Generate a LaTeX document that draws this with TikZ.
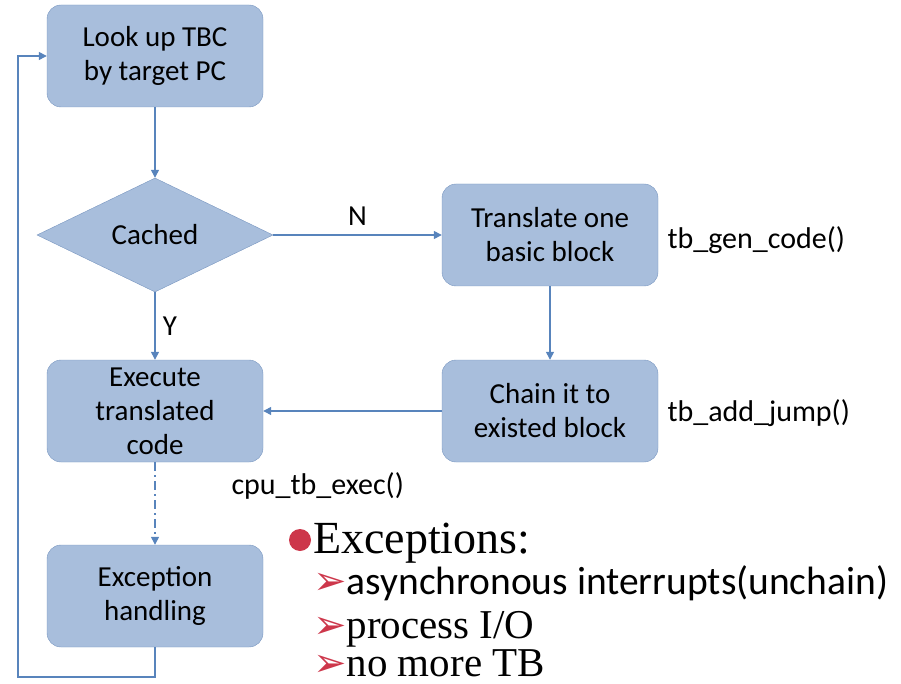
\documentclass[tikz,border=0pt]{standalone}
\usepackage{fontspec}
\setmainfont{Carlito}
\newfontfamily\timesfont{Liberation Serif}
\newfontfamily\symfont{DejaVu Sans}
\usetikzlibrary{arrows.meta, positioning, shapes.geometric}
\definecolor{boxfill}{RGB}{168,190,220}
\definecolor{boxline}{RGB}{120,150,192}
\definecolor{flow}{RGB}{88,132,188}
\definecolor{bullet}{RGB}{205,55,75}
\newcommand{\arrbullet}{\textcolor{bullet}{\symfont\fontsize{40}{44}\selectfont ➢}}

\begin{document}
\begin{tikzpicture}[x=1pt,y=-1pt,
		step box/.style={draw=boxline,fill=boxfill,rounded corners=14pt,minimum width=216pt,minimum height=102pt,align=center,font=\fontsize{29}{34}\selectfont},
		flow arrow/.style={draw=flow,line width=1.3pt,-{Triangle[length=8pt,width=8pt]}},
		side note/.style={anchor=west,font=\fontsize{30}{34}\selectfont},
		list item/.style={anchor=base west,inner sep=0pt}]
			\useasboundingbox (0,0) rectangle (901,684);
			% boxes
			\node[step box] (lookup) at (155,56) {Look up TBC\\by target PC};
			\node[draw=boxline,fill=boxfill,diamond,inner sep=0pt,minimum width=236pt,minimum height=114pt,font=\fontsize{29}{34}\selectfont] (cached) at (155,235) {Cached};
			\node[step box] (translate) at (550,235) {Translate one\\basic block};
			\node[step box] (chain) at (550,411) {Chain it to\\existed block};
			\node[step box] (execute) at (155,411) {Execute\\translated\\code};
			\node[step box] (exception) at (155,596) {Exception\\handling};
			% connectors
			\draw[flow arrow] (lookup) -- (cached);
			\draw[flow arrow] (cached) -- node[above=6pt,font=\fontsize{29}{34}\selectfont]{N} (translate);
			\draw[flow arrow] (cached) -- node[right=4pt,font=\fontsize{29}{34}\selectfont]{Y} (execute);
			\draw[flow arrow] (translate) -- (chain);
			\draw[flow arrow] (chain) -- (execute);
			\draw[flow arrow,dash pattern=on 9pt off 4pt on 2pt off 4pt] (execute) -- (exception);
			% loop back
			\coordinate (loopcorner) at (18,677);
			\draw[flow arrow] (exception.south) |- (loopcorner) |- (lookup.west);
			% function names
			\node[side note] (gencode) at (664,240) {tb\_gen\_code()};
			\node[side note] (addjump) at (664,413) {tb\_add\_jump()};
			\node[side note] (tbexec) at (228,486) {cpu\_tb\_exec()};
			% exceptions list
			\node[circle,fill=bullet,inner sep=0pt,minimum size=22pt] (excdot) at (300,540) {};
			\node[list item,font=\fontsize{46}{50}\timesfont] (exctitle) at (313,553) {Exceptions:};
			\node[list item,font=\fontsize{39.5}{44}\selectfont] (async) at (313,594) {\arrbullet asynchronous interrupts(unchain)};
			\node[list item,font=\fontsize{41}{44}\timesfont] (procio) at (313,638) {\arrbullet process I/O};
			\node[list item,font=\fontsize{41}{44}\timesfont] (nomore) at (313,676) {\arrbullet no more TB};
		\end{tikzpicture}
\end{document}
